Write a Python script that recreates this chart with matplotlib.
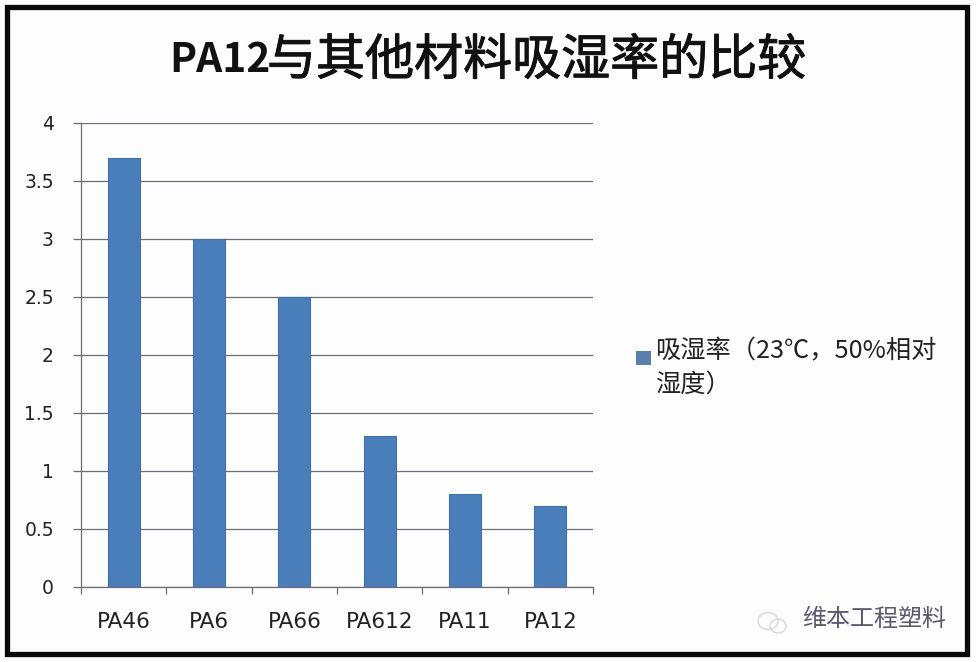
import matplotlib
matplotlib.use("Agg")
import matplotlib.pyplot as plt
import matplotlib.patheffects as pe
from matplotlib.patches import Rectangle, Ellipse

categories = ["PA46", "PA6", "PA66", "PA612", "PA11", "PA12"]
values = [3.7, 3.0, 2.5, 1.3, 0.8, 0.7]
y_ticks = [0, 0.5, 1, 1.5, 2, 2.5, 3, 3.5, 4]
y_labels = ["0", "0.5", "1", "1.5", "2", "2.5", "3", "3.5", "4"]
title_latin = "PA12"
title_cjk = "与其他材料吸湿率的比较"
legend_lines = ["吸湿率（23℃，50%相对", "湿度）"]
watermark = "维本工程塑料"

plt.rcParams['font.family'] = ['Noto Sans CJK SC', 'DejaVu Sans']
W, H = 976, 662
fig = plt.figure(figsize=(W / 100, H / 100), dpi=100, facecolor="#fdfdfe")

def fx(p): return p / W
def fy(p): return 1 - p / H

# outer frame
fig.add_artist(Rectangle((fx(6.5), fy(654)), (967 - 6.5) / W, (654 - 6.5) / H,
                         transform=fig.transFigure, fill=False,
                         edgecolor="#0a0a0a", linewidth=3.8))

ax = fig.add_axes([fx(81), fy(587), (593 - 81) / W, (587 - 123) / H])
ax.set_facecolor("#fdfdfe")
x = range(len(categories))
ax.bar(x, values, width=0.375, color="#4a7ebb", edgecolor="#41719c", linewidth=0.8, zorder=3)
ax.set_xlim(-0.5, 5.5)
ax.set_ylim(0, 4)
ax.set_yticks(y_ticks)
ax.set_yticklabels(y_labels, fontsize=13.5, color="#222222", family="DejaVu Sans")
ax.set_xticks([i + 0.5 for i in range(-1, 6)])
ax.set_xticklabels([""] * 7)
ax.tick_params(axis="y", length=6, width=0.9, color="#6f6a75", pad=13.5)
ax.tick_params(axis="x", length=5, width=0.9, color="#6f6a75", direction="out")
ax.grid(axis="y", color="#6f6a75", linewidth=0.9, zorder=1)
for s in ("top", "right"):
    ax.spines[s].set_visible(False)
for s in ("left", "bottom"):
    ax.spines[s].set_color("#6f6a75")
    ax.spines[s].set_linewidth(0.9)
for i, c in enumerate(categories):
    ax.text(i, -0.3, c, ha="center", va="center", fontsize=15.5,
            color="#222222", family="DejaVu Sans")

# title: bold Latin part, medium-looking CJK part
fig.text(fx(169), fy(61), title_latin, ha="left", va="center", fontsize=29.3,
         fontweight="bold", color="#111111")
fig.text(fx(806), fy(61), title_cjk, ha="right", va="center", fontsize=35.3,
         fontweight="normal", color="#111111",
         path_effects=[pe.withStroke(linewidth=0.7, foreground="#111111")])

# legend
fig.add_artist(Rectangle((fx(636), fy(365)), 15 / W, 14.5 / H, transform=fig.transFigure,
                         facecolor="#5b7fab", edgecolor="none"))
fig.text(fx(655), fy(351), legend_lines[0], ha="left", va="center", fontsize=18.2, color="#222222")
fig.text(fx(655), fy(386), legend_lines[1], ha="left", va="center", fontsize=18.2, color="#222222")

# watermark with faint logo
fig.add_artist(Ellipse((fx(768), fy(621)), 20 / W, 17 / H, transform=fig.transFigure,
                       fill=False, edgecolor="#d8d8dc", linewidth=1.0))
fig.add_artist(Ellipse((fx(778), fy(626)), 16 / W, 14 / H, transform=fig.transFigure,
                       fill=False, edgecolor="#d8d8dc", linewidth=1.0))
fig.text(fx(802), fy(619), watermark, ha="left", va="center", fontsize=17.3, color="#3f3a55", alpha=0.85)

fig.savefig("out.png", dpi=100, facecolor=fig.get_facecolor())
